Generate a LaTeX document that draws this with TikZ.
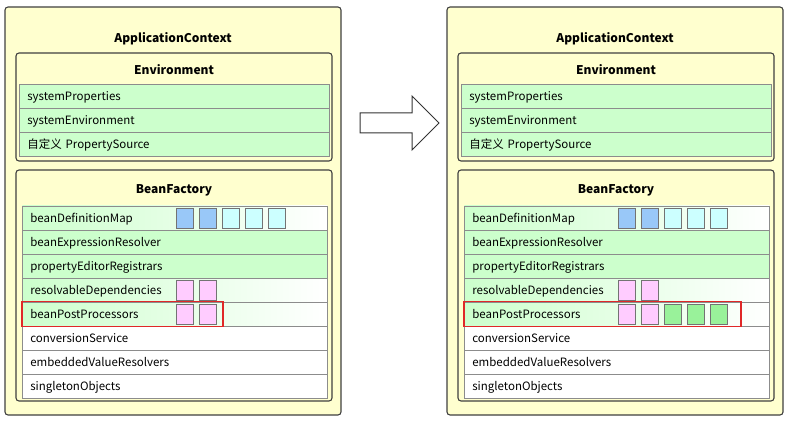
\documentclass[tikz,border=0pt]{standalone}
\usepackage{fontspec}
\setmainfont{Noto Sans CJK SC}
\usetikzlibrary{shapes.arrows, calc}

\definecolor{ctxyellow}{HTML}{FFFFCF}
\definecolor{rowgreen}{HTML}{CCFFCC}
\definecolor{sqblue}{HTML}{99C8F8}
\definecolor{sqcyan}{HTML}{CCFFFF}
\definecolor{sqpink}{HTML}{FFCCFF}
\definecolor{sqgreen}{HTML}{99F29A}
\definecolor{markred}{HTML}{E02828}

\tikzset{
  ctxbox/.style={draw=black!75, line width=1.1pt, rounded corners=3pt, fill=ctxyellow, minimum width=336pt, minimum height=408pt},
  innerbox/.style={draw=black!75, line width=1.1pt, rounded corners=3pt, minimum width=316pt},
  boxtitle/.style={font=\fontsize{12}{14}\selectfont\bfseries},
  envrow/.style={draw=black!45, line width=0.6pt, fill=rowgreen, anchor=west, minimum height=24pt, inner xsep=8pt, text width=294pt, text height=9.5pt, text depth=1pt, align=left, font=\fontsize{11.5}{13}\selectfont},
  bfrow/.style={draw=black!45, line width=0.6pt, anchor=west, minimum height=24pt, inner xsep=8pt, text width=289pt, text height=9.5pt, text depth=1pt, align=left, font=\fontsize{11.5}{13}\selectfont},
  fullrow/.style={fill=rowgreen},
  fadedrow/.style={left color=rowgreen, right color=white},
  plainrow/.style={fill=white},
  cell/.style={draw=black!55, line width=0.6pt, minimum width=17pt, minimum height=20pt, inner sep=0pt},
  markbox/.style={draw=markred, line width=1.4pt},
  bigarrow/.style={single arrow, draw=black!80, line width=1pt, fill=white, inner xsep=0pt, inner ysep=9.5pt, single arrow head extend=17pt, minimum height=79pt}
}

\begin{document}
\begin{tikzpicture}[x=1pt, y=-1pt]
  \useasboundingbox (0,0) rectangle (787,422);
  \foreach \p/\x in {L/0, R/442} {
    % ApplicationContext
    \node[ctxbox] (\p-ctx) at (\x+173,211) {};
    \node[boxtitle] (\p-ctxtitle) at (\x+173,38.5) {ApplicationContext};
    % Environment
    \node[innerbox, minimum height=108pt] (\p-env) at (\x+174,107) {};
    \node[boxtitle] (\p-envtitle) at (\x+174,70) {Environment};
    \node[envrow] (\p-sp) at (\x+19,96) {systemProperties};
    \node[envrow] (\p-se) at (\x+19,120) {systemEnvironment};
    \node[envrow] (\p-ps) at (\x+19,144) {自定义 PropertySource};
    % BeanFactory
    \node[innerbox, minimum height=231pt] (\p-bf) at (\x+174,285.5) {};
    \node[boxtitle] (\p-bftitle) at (\x+174,190) {BeanFactory};
    \node[bfrow, fadedrow] (\p-bdm) at (\x+22,218) {beanDefinitionMap};
    \node[bfrow, fullrow] (\p-ber) at (\x+22,242) {beanExpressionResolver};
    \node[bfrow, fullrow] (\p-per) at (\x+22,266) {propertyEditorRegistrars};
    \node[bfrow, fadedrow] (\p-rd) at (\x+22,290) {resolvableDependencies};
    \node[bfrow, fadedrow] (\p-bpp) at (\x+22,314) {beanPostProcessors};
    \node[bfrow, plainrow] (\p-cs) at (\x+22,338) {conversionService};
    \node[bfrow, plainrow] (\p-evr) at (\x+22,362) {embeddedValueResolvers};
    \node[bfrow, plainrow] (\p-so) at (\x+22,386) {singletonObjects};
    % cells
    \foreach \k/\c in {1/sqblue, 2/sqblue, 3/sqcyan, 4/sqcyan, 5/sqcyan}
      \node[cell, fill=\c] (\p-bdm\k) at (\x+161.5+23*\k,218) {};
    \foreach \k in {1,2} {
      \node[cell, fill=sqpink] (\p-rd\k) at (\x+161.5+23*\k,290) {};
      \node[cell, fill=sqpink] (\p-bpp\k) at (\x+161.5+23*\k,314) {};
    }
  }
  \foreach \k in {3,4,5}
    \node[cell, fill=sqgreen] (R-bpp\k) at (442+161.5+23*\k,314) {};
  % highlight
  \foreach \p/\w in {L/201, R/277}
    \draw[markbox] (\p-bpp.north west) rectangle ++(\w,25);
  % arrow
  \node[bigarrow] (grow) at (394.5,123) {};
\end{tikzpicture}
\end{document}
